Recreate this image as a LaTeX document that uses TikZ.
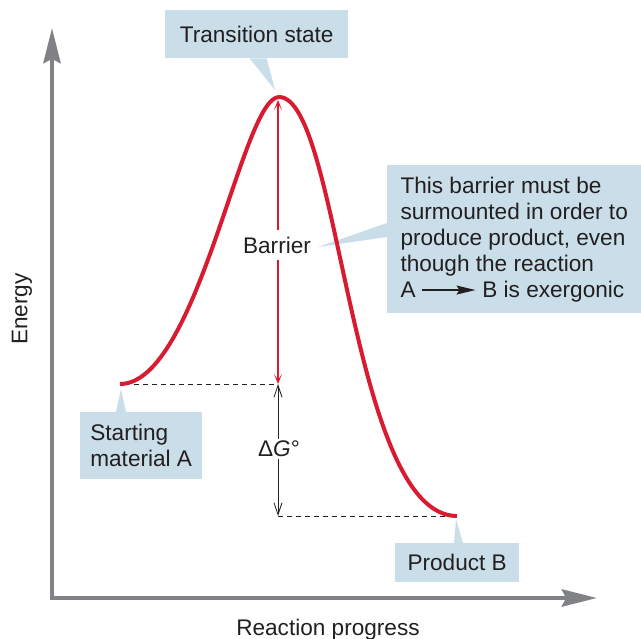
\documentclass[tikz,border=0pt]{standalone}
\usepackage{fontspec}
\setmainfont{Liberation Sans}
\usepackage{tikz}
\usetikzlibrary{arrows.meta}
\usepackage{xcolor}
\definecolor{curvered}{RGB}{216,27,48}
\definecolor{calloutblue}{RGB}{201,222,233}
\definecolor{axisgray}{RGB}{128,130,134}
\definecolor{textdark}{RGB}{35,31,32}

\begin{document}
\begin{tikzpicture}[x=1pt, y=-1pt,
      every node/.style={font=\fontsize{22.6}{26}\selectfont, text=textdark},
      callout/.style={fill=calloutblue, align=left, inner sep=0pt, anchor=north west},
      pointer/.style={fill=calloutblue},
      axis/.style={draw=axisgray, line width=4.5pt,
                   {Stealth[length=35pt,width=17pt,inset=4pt]}-{Stealth[length=35pt,width=17pt,inset=4pt]}},
      profile/.style={draw=curvered, line width=4pt},
      level/.style={draw=textdark, line width=0.9pt, dash pattern=on 5pt off 4pt},
      barrier/.style={draw=curvered, line width=1.6pt,
                      {Stealth[length=10pt,width=8pt,inset=6pt]}-{Stealth[length=10pt,width=8pt,inset=6pt]}},
      delta/.style={draw=textdark, line width=0.8pt,
                    {Straight Barb[length=12pt,width=8pt]}-{Straight Barb[length=12pt,width=8pt]}},
      gap/.style={fill=white, inner xsep=2pt}]
    \useasboundingbox (0,0) rectangle (641,639);
    % key points of the energy profile
    \coordinate (sa) at (120,384);
    \coordinate (ts) at (279,97);
    \coordinate (pb) at (457,516);
    \coordinate (origin) at (52,598);
    \coordinate (ytop) at (52,28);
    \coordinate (xend) at (597,598);
    % axes
    \draw[axis] (ytop) -- (origin) -- (xend);
    \node[rotate=90] (ylabel) at (22,309) {Energy};
    \node[anchor=base] (xlabel) at (328,635) {Reaction progress};
    % callouts
    \node[callout, minimum width=183pt, minimum height=48pt] (tsbox) at (165,10) {Transition state};
    \coordinate (tstip) at (275,90);
    \fill[pointer] ([xshift=-7pt]tsbox.south) -- ([xshift=10pt]tsbox.south) -- (tstip) -- cycle;
    \node[callout, minimum width=254pt, minimum height=148pt] (notebox) at (387,165)
      {This barrier must be\\ surmounted in order to\\ produce product, even\\ though the reaction\\
       A \tikz[baseline=-7pt]\draw[line width=1.2pt, -{Stealth[length=19pt,width=9pt,inset=3pt]}] (0pt,0pt) -- (53pt,0pt); B is exergonic};
    \coordinate (notetip) at (318,247);
    \fill[pointer] ([yshift=-58pt]notebox.north west) -- ([yshift=-72pt]notebox.north west) -- (notetip) -- cycle;
    \node[callout, minimum width=122pt, minimum height=67pt] (sabox) at (80,412) {Starting\\ material A};
    \coordinate (satip) at (121,389);
    \fill[pointer] ([xshift=36pt]sabox.north west) -- ([xshift=46pt]sabox.north west) -- (satip) -- cycle;
    \node[callout, minimum width=124pt, minimum height=39pt] (pbbox) at (395,543) {Product B};
    \coordinate (pbtip) at (456,519);
    \fill[pointer] ([xshift=59pt]pbbox.north west) -- ([xshift=68pt]pbbox.north west) -- (pbtip) -- cycle;
    % levels
    \coordinate (sadash) at (134,384);
    \coordinate (salevel) at (278,384);
    \coordinate (pblevel) at (278,516);
    \coordinate (pbdash) at (450,516);
    \coordinate (tsbar) at (278,100);
    \draw[level] (sadash) -- (salevel);
    \draw[level] (pblevel) -- (pbdash);
    \draw[barrier] (tsbar) -- (salevel);
    \draw[delta] (salevel) -- (pblevel);
    \node[gap, inner ysep=7pt] (barrierlbl) at (277,245) {Barrier};
    \node[gap, inner ysep=2pt] (deltalbl) at (279,449) {Δ\textit{G}°};
    % energy profile
    \draw[profile] (sa) .. controls (198,384) and (242,97) .. (ts)
                        .. controls (340,97) and (350,516) .. (pb);
  \end{tikzpicture}
\end{document}
